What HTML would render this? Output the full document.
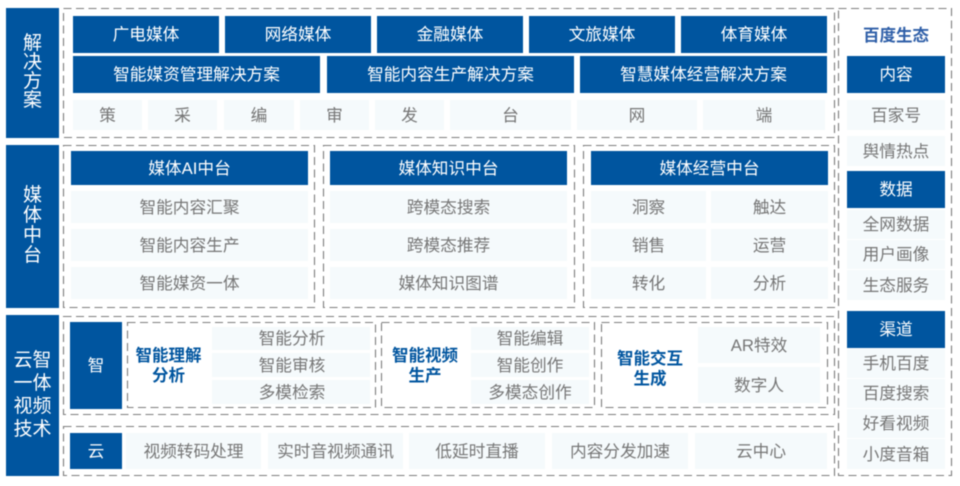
<!DOCTYPE html>
<html><head><meta charset="utf-8"><style>
html,body{margin:0;padding:0;background:#fff}
#p{position:relative;width:960px;height:486px;overflow:hidden;background:#fff;font-family:"Liberation Sans","Noto Sans CJK SC",sans-serif;font-size:16.7px;filter:blur(.4px)}
#p div{position:absolute;display:flex;align-items:center;justify-content:center;text-align:center;white-space:nowrap;box-sizing:border-box;padding-bottom:3px}
.b{background:#00559f;color:#fff}
.g{background:#f5fafc;color:#767676}
#p div.l{font-size:19px;line-height:19px;white-space:normal;padding-bottom:2px}
#p div.t{color:#00559f;font-weight:bold;font-size:16.5px;line-height:20px;white-space:normal;padding-bottom:0}
svg{position:absolute;left:0;top:0}
rect{fill:none;stroke:#7c7c7c;stroke-width:1.1;stroke-dasharray:8 4.5}
</style></head><body><div id="p">
<svg width="960" height="486">
<rect x="63.5" y="8.5" width="771" height="129"/>
<rect x="63.5" y="145.5" width="251" height="162"/>
<rect x="323.5" y="145.5" width="251" height="162"/>
<rect x="583.5" y="145.5" width="251" height="162"/>
<rect x="63.5" y="316.5" width="771" height="98"/>
<rect x="63.5" y="426.5" width="771" height="49"/>
<rect x="127.5" y="322.5" width="248" height="85"/>
<rect x="381.5" y="322.5" width="213" height="85"/>
<rect x="601.5" y="322.5" width="226" height="85"/>
<rect x="838.5" y="8.5" width="113" height="467"/>
</svg>
<div class="b l" style="left:6px;top:8px;width:53px;height:130px">解<br>决<br>方<br>案</div>
<div class="b l" style="left:6px;top:145px;width:53px;height:163px;line-height:20px">媒<br>体<br>中<br>台</div>
<div class="b l" style="left:6px;top:315px;width:53px;height:161px;line-height:23px">云智<br>一体<br>视频<br>技术</div>

<div class="b" style="left:73px;top:16px;width:146px;height:37px">广电媒体</div>
<div class="b" style="left:225px;top:16px;width:146px;height:37px">网络媒体</div>
<div class="b" style="left:377px;top:16px;width:146px;height:37px">金融媒体</div>
<div class="b" style="left:529px;top:16px;width:146px;height:37px">文旅媒体</div>
<div class="b" style="left:681px;top:16px;width:146px;height:37px">体育媒体</div>
<div class="b" style="left:73px;top:56px;width:247px;height:37px">智能媒资管理解决方案</div>
<div class="b" style="left:327px;top:56px;width:247px;height:37px">智能内容生产解决方案</div>
<div class="b" style="left:580px;top:56px;width:247px;height:37px">智慧媒体经营解决方案</div>
<div class="g" style="left:73px;top:100px;width:69px;height:30px">策</div>
<div class="g" style="left:148px;top:100px;width:69px;height:30px">采</div>
<div class="g" style="left:224px;top:100px;width:70px;height:30px">编</div>
<div class="g" style="left:300px;top:100px;width:69px;height:30px">审</div>
<div class="g" style="left:375px;top:100px;width:69px;height:30px">发</div>
<div class="g" style="left:450px;top:100px;width:121px;height:30px">台</div>
<div class="g" style="left:577px;top:100px;width:120px;height:30px">网</div>
<div class="g" style="left:703px;top:100px;width:122px;height:30px">端</div>

<div class="b" style="left:71px;top:151px;width:237px;height:34px">媒体AI中台</div>
<div class="b" style="left:330px;top:151px;width:237px;height:34px">媒体知识中台</div>
<div class="b" style="left:591px;top:151px;width:237px;height:34px">媒体经营中台</div>
<div class="g" style="left:71px;top:191px;width:237px;height:32px">智能内容汇聚</div>
<div class="g" style="left:71px;top:229px;width:237px;height:32px">智能内容生产</div>
<div class="g" style="left:71px;top:267px;width:237px;height:32px">智能媒资一体</div>
<div class="g" style="left:330px;top:191px;width:237px;height:32px">跨模态搜索</div>
<div class="g" style="left:330px;top:229px;width:237px;height:32px">跨模态推荐</div>
<div class="g" style="left:330px;top:267px;width:237px;height:32px">媒体知识图谱</div>
<div class="g" style="left:591px;top:191px;width:115px;height:32px">洞察</div>
<div class="g" style="left:711px;top:191px;width:117px;height:32px">触达</div>
<div class="g" style="left:591px;top:229px;width:115px;height:32px">销售</div>
<div class="g" style="left:711px;top:229px;width:117px;height:32px">运营</div>
<div class="g" style="left:591px;top:267px;width:115px;height:32px">转化</div>
<div class="g" style="left:711px;top:267px;width:117px;height:32px">分析</div>

<div class="b" style="left:70px;top:322px;width:52px;height:87px">智</div>
<div class="t" style="left:130px;top:344px;width:77px;height:44px">智能理解<br>分析</div>
<div class="g" style="left:212px;top:327px;width:158px;height:23px;padding-left:2px">智能分析</div>
<div class="g" style="left:212px;top:353px;width:158px;height:24px;padding-left:2px">智能审核</div>
<div class="g" style="left:212px;top:380px;width:158px;height:24px;padding-left:2px">多模检索</div>
<div class="t" style="left:385px;top:344px;width:80px;height:44px">智能视频<br>生产</div>
<div class="g" style="left:471px;top:327px;width:118px;height:23px">智能编辑</div>
<div class="g" style="left:471px;top:353px;width:118px;height:24px">智能创作</div>
<div class="g" style="left:471px;top:380px;width:118px;height:24px">多模态创作</div>
<div class="t" style="left:606px;top:347px;width:88px;height:44px">智能交互<br>生成</div>
<div class="g" style="left:698px;top:327px;width:122px;height:36px">AR特效</div>
<div class="g" style="left:698px;top:367px;width:122px;height:36px">数字人</div>

<div class="b" style="left:70px;top:433px;width:52px;height:36px">云</div>
<div class="g" style="left:126px;top:433px;width:135px;height:36px">视频转码处理</div>
<div class="g" style="left:268px;top:433px;width:135px;height:36px">实时音视频通讯</div>
<div class="g" style="left:409px;top:433px;width:136px;height:36px">低延时直播</div>
<div class="g" style="left:552px;top:433px;width:136px;height:36px">内容分发加速</div>
<div class="g" style="left:695px;top:433px;width:132px;height:36px">云中心</div>

<div class="t" style="left:847px;top:25px;width:98px;height:22px;color:#2f5fa8">百度生态</div>
<div class="b" style="left:847px;top:56px;width:98px;height:37px">内容</div>
<div class="g" style="left:847px;top:100px;width:98px;height:30px">百家号</div>
<div class="g" style="left:847px;top:136px;width:98px;height:30px">舆情热点</div>
<div class="b" style="left:847px;top:171px;width:98px;height:37px">数据</div>
<div class="g" style="left:847px;top:210px;width:98px;height:29px">全网数据</div>
<div class="g" style="left:847px;top:240px;width:98px;height:29px">用户画像</div>
<div class="g" style="left:847px;top:270px;width:98px;height:30px">生态服务</div>
<div class="b" style="left:847px;top:311px;width:98px;height:37px">渠道</div>
<div class="g" style="left:847px;top:349px;width:98px;height:29px">手机百度</div>
<div class="g" style="left:847px;top:379px;width:98px;height:29px">百度搜索</div>
<div class="g" style="left:847px;top:409px;width:98px;height:29px">好看视频</div>
<div class="g" style="left:847px;top:439px;width:98px;height:30px">小度音箱</div>
</div></body></html>
